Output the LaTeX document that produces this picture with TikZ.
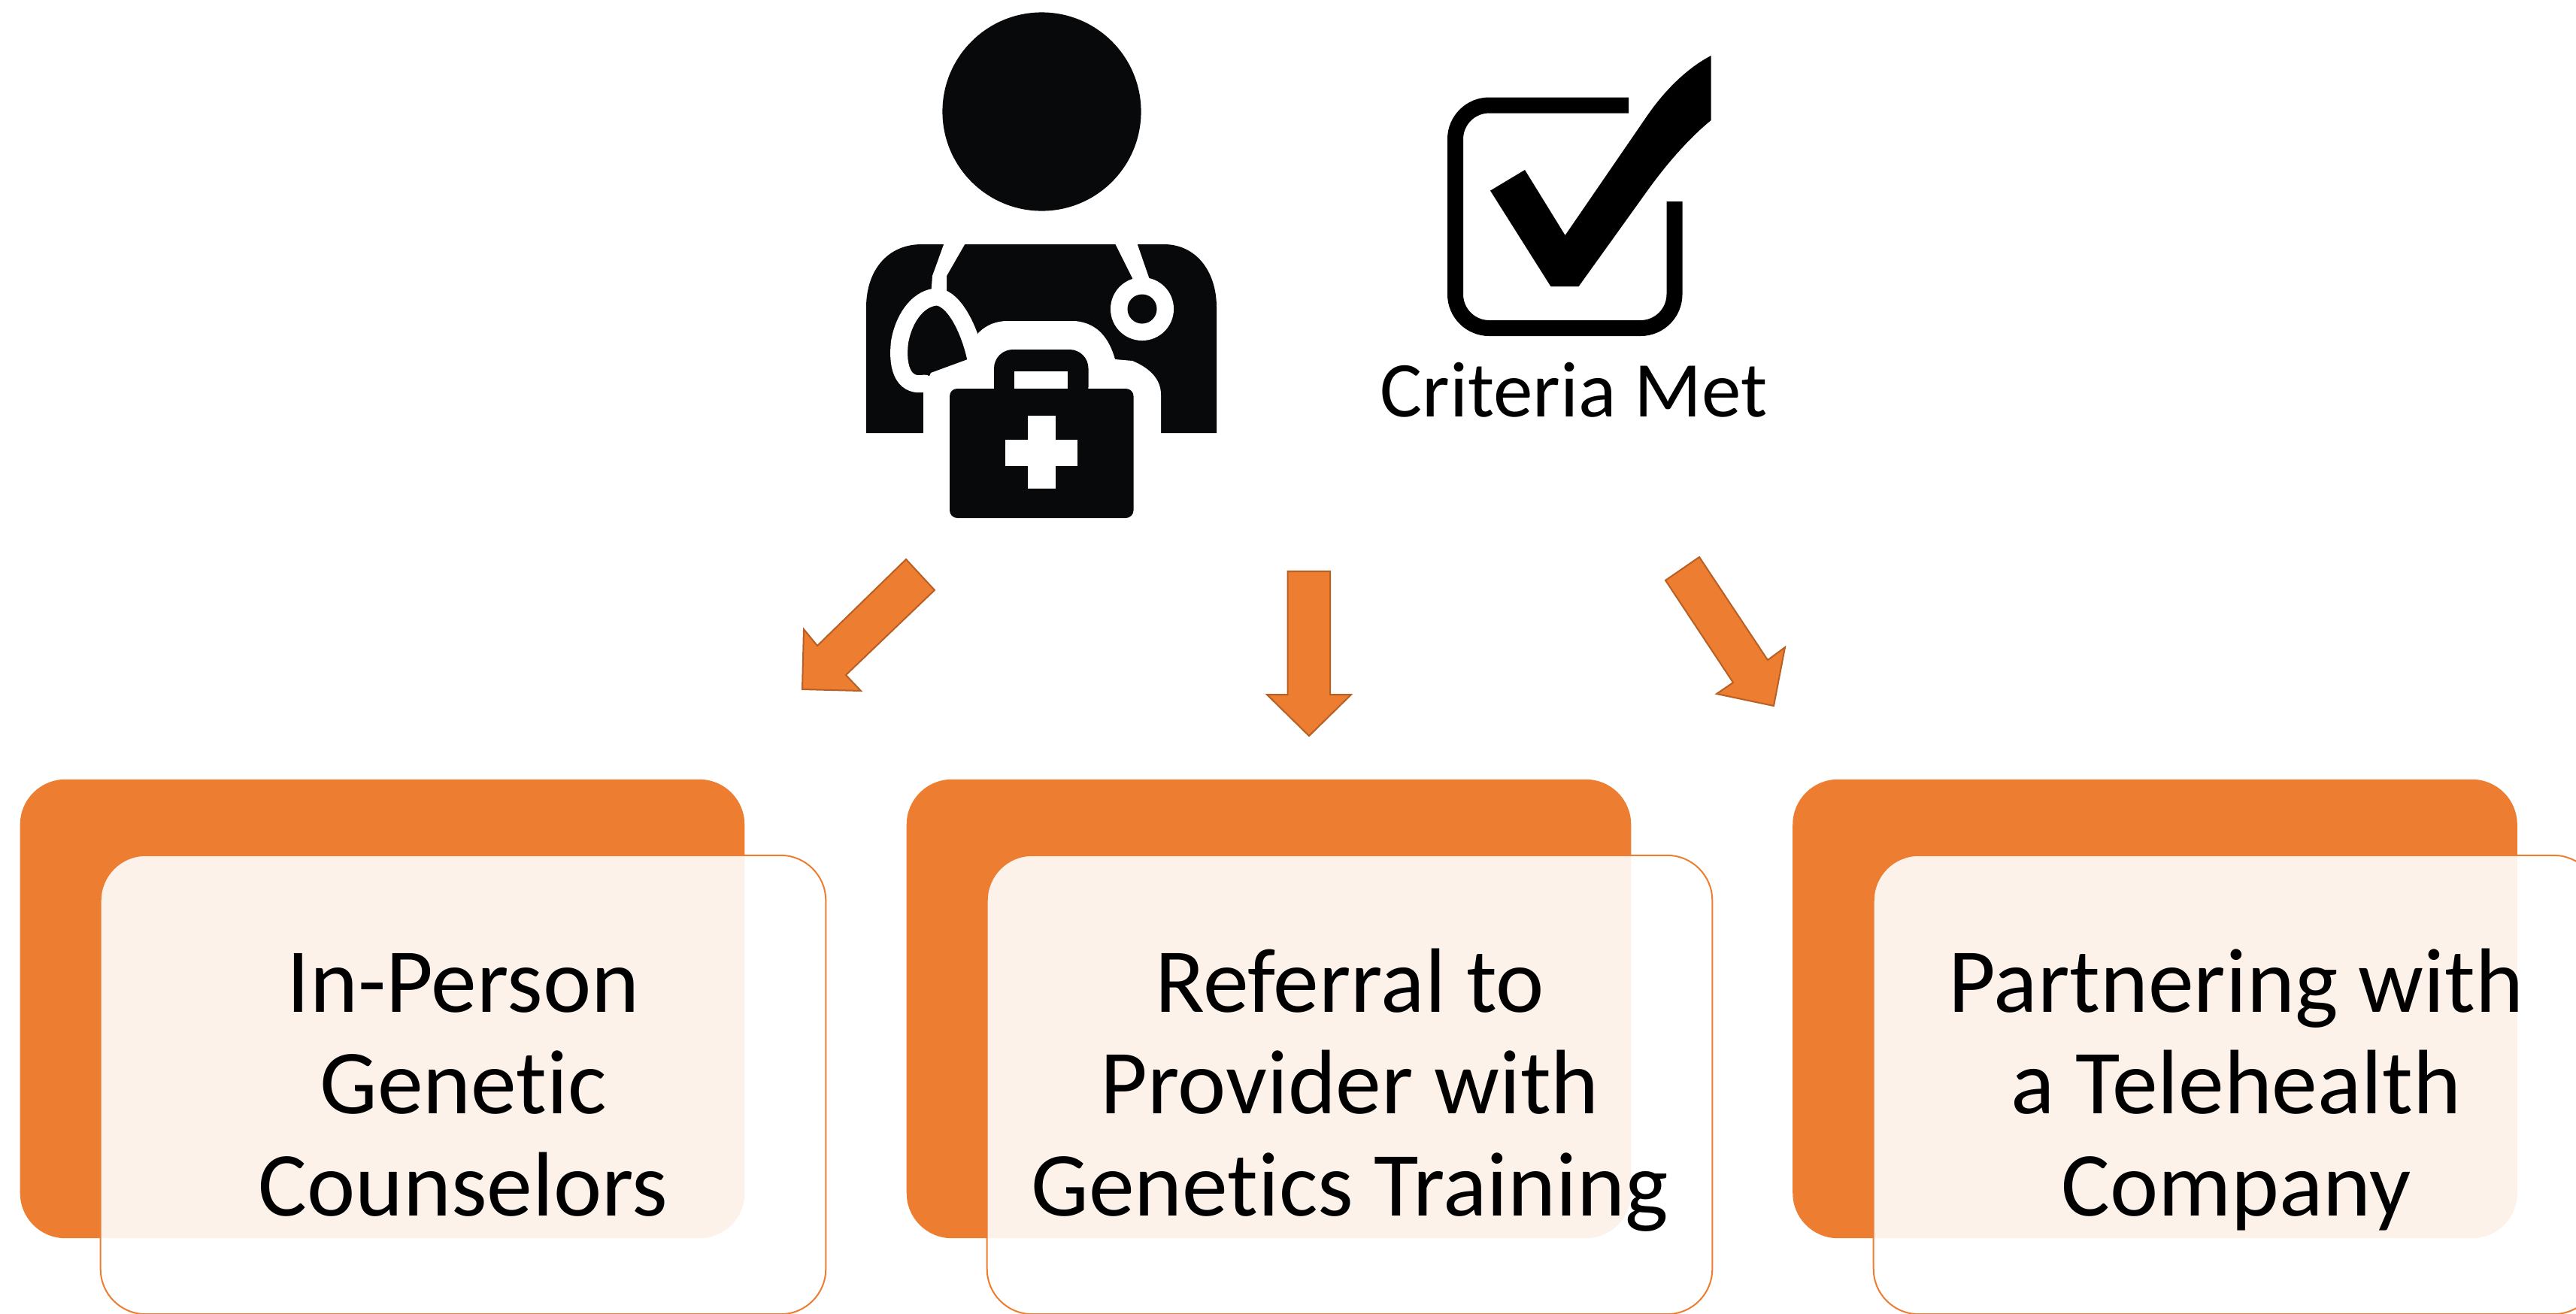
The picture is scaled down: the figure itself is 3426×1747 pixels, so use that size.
\documentclass[tikz,border=0pt]{standalone}
\usepackage{fontspec}
\setmainfont[Ligatures=NoCommon]{Carlito}
\definecolor{boxorange}{HTML}{ED7D31}
\definecolor{arrowedge}{HTML}{B85F23}
\definecolor{iconblack}{HTML}{08090B}
\newcommand{\firstrow}{\rule{0pt}{32pt}}
\newcommand{\lastrow}{\rule[-10pt]{0pt}{10pt}}
\tikzset{
  backbox/.style={rectangle, rounded corners=.6cm, fill=boxorange, minimum width=9.63cm, minimum height=6.1cm},
  frontbox/.style={rectangle, rounded corners=.6cm, draw=boxorange, line width=.02cm, fill=white, fill opacity=.9, text opacity=1, minimum width=9.64cm, minimum height=6.1cm, align=center, inner sep=0pt, font=\fontsize{34.6}{38.5}\selectfont},
  blockarrow/.style={fill=boxorange, draw=arrowedge, line width=.02cm, line join=miter},
  tube/.style={draw=white, line width=.23cm, line cap=round}
}
\begin{document}
\begin{tikzpicture}[x=.01cm, y=-.01cm]
      \path[use as bounding box, clip] (0,0) rectangle (3426,1747);
      \begin{scope}[iconblack]
        \fill (1385.5,148.5) circle [radius=1.32cm];
        \fill (1152,576) -- (1152,409) .. controls (1152,360) and (1180,325) .. (1226,325)
          -- (1548,325) .. controls (1590,325) and (1618,360) .. (1618,409) -- (1618,576) -- cycle;
        \fill[white] (1228,580) -- (1228,519) -- (1238,496) -- (1287,478) -- (1301,443)
          .. controls (1312,432) and (1325,427) .. (1340,427) -- (1430,427)
          .. controls (1460,430) and (1475,450) .. (1483,478) -- (1506,480)
          .. controls (1530,490) and (1544,505) .. (1544,525) -- (1544,580) -- cycle;
        \fill[white] (1257,320) -- (1286,320) -- (1259,367) -- (1259,395) -- (1238,395) -- (1240,367) -- cycle;
        \fill[white] (1481,320) -- (1511,320) -- (1529,372) -- (1507,372) -- cycle;
        \draw[tube] (1230,510) .. controls (1205,515) and (1192,495) .. (1196.5,455)
          .. controls (1203,418) and (1225,395) .. (1247,395)
          .. controls (1270,398) and (1290,440) .. (1298,478);
        \fill[white] (1519,411) circle [radius=.42cm];
        \fill (1519,411) circle [radius=.195cm];
        \fill[rounded corners=.25cm] (1322,540) -- (1322,465) -- (1447.5,465) -- (1447.5,540) -- cycle;
        \fill[white] (1349,493.5) rectangle (1419.5,518);
        \fill[rounded corners=.1cm] (1263,517) rectangle (1507.5,689);
        \fill[white] (1367,553) rectangle (1403.5,650);
        \fill[white] (1337,585) rectangle (1433,620);
      \end{scope}
      \draw[black, line width=.21cm, rounded corners=.45cm]
        (2166,140) -- (1935.5,140) -- (1935.5,436.5) -- (2227,436.5) -- (2227,268);
      \fill[black] (1982,253.6) -- (2028,226) -- (2081.6,313) -- (2190,155)
        .. controls (2215,118.5) and (2245,90) .. (2275.6,74) -- (2275.6,160)
        .. controls (2245,185) and (2215,220) .. (2190,255) -- (2099.6,381) -- (2062.4,381) -- cycle;
      \node (criteria) [anchor=base, inner sep=0pt, font=\fontsize{29.9}{36}\selectfont] at (2093,554) {Criteria Met};
      \draw[blockarrow] (1205,744) -- (1243,785) -- (1125,898) -- (1145,919) -- (1067,917) -- (1069,837) -- (1087,859) -- cycle;
      \draw[blockarrow] (1712.5,760) -- (1769,760) -- (1769,924) -- (1797,924) -- (1741,979) -- (1685,924) -- (1712.5,924) -- cycle;
      \draw[blockarrow] (2260,741) -- (2351,878) -- (2374,861) -- (2359,939) -- (2283,923) -- (2305,908) -- (2215,772) -- cycle;
      \node (back0) [backbox] at (508.5,1342) {};
      \node (back1) [backbox] at (1687.5,1342) {};
      \node (back2) [backbox] at (2866,1342) {};
      \node (front0) [frontbox] at (616,1443) {\firstrow In-Person\\Genetic\\\lastrow Counselors};
      \node (front1) [frontbox] at (1795,1443) {\firstrow Referral to\\Provider with\\\lastrow Genetics Training};
      \node (front2) [frontbox] at (2974,1443) {\firstrow Partnering with\\a Telehealth\\\lastrow Company};
    \end{tikzpicture}
\end{document}
